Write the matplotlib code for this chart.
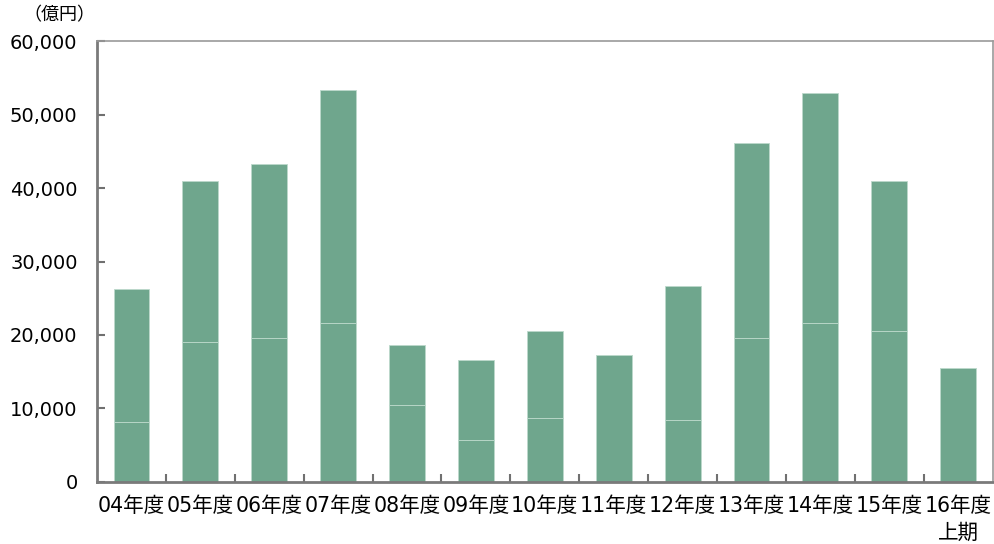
import matplotlib.pyplot as plt
import numpy as np
from matplotlib.ticker import FuncFormatter

plt.rcParams['font.family'] = ['DejaVu Sans', 'Noto Sans CJK JP']

years = ['04年度', '05年度', '06年度', '07年度', '08年度', '09年度', '10年度',
         '11年度', '12年度', '13年度', '14年度', '15年度', '16年度\n上期']
lower = [8200, 19000, 19600, 21600, 10500, 5700, 8700, 17300, 8400, 19600, 21600, 20500, 15500]
total = [26300, 41000, 43300, 53400, 18600, 16600, 20600, 17300, 26600, 46100, 52900, 41000, 15500]
upper = [t - l for t, l in zip(total, lower)]

bar_color = '#6fa68d'
edge_color = '#bcd9cb'

fig = plt.figure(figsize=(9.94, 5.44), dpi=100)
ax = fig.add_axes([0.0976, 0.114, 0.901, 0.8106])

x = np.arange(len(years))
ax.bar(x, lower, width=0.52, color=bar_color, edgecolor=edge_color, linewidth=0.6)
ax.bar(x, upper, width=0.52, bottom=lower, color=bar_color, edgecolor=edge_color, linewidth=0.6)

ax.set_xlim(-0.5, len(years) - 0.5)
ax.set_ylim(0, 60000)
ax.set_yticks(range(0, 60001, 10000))
ax.yaxis.set_major_formatter(FuncFormatter(lambda v, p: f'{int(v):,}'))
ax.tick_params(axis='y', direction='in', length=6, width=1.5, color='#707070',
               labelsize=14, pad=14)

# labels at bar centres, tick marks at the category boundaries
ax.set_xticks(x)
ax.set_xticklabels(years, fontsize=14.8, linespacing=1.45)
ax.tick_params(axis='x', which='major', length=0, pad=10)
ax.set_xticks(x[:-1] + 0.5, minor=True)
ax.tick_params(axis='x', which='minor', direction='in', length=6, width=1.5, color='#707070')

for s in ['left', 'bottom']:
    ax.spines[s].set_color('#7a7a7a')
    ax.spines[s].set_linewidth(2)
for s in ['top', 'right']:
    ax.spines[s].set_color('#9a9a9a')
    ax.spines[s].set_linewidth(1.2)

fig.text(0.024, 0.972, '（億円）', fontsize=13, ha='left', va='center')

fig.savefig('out.png', dpi=100)
